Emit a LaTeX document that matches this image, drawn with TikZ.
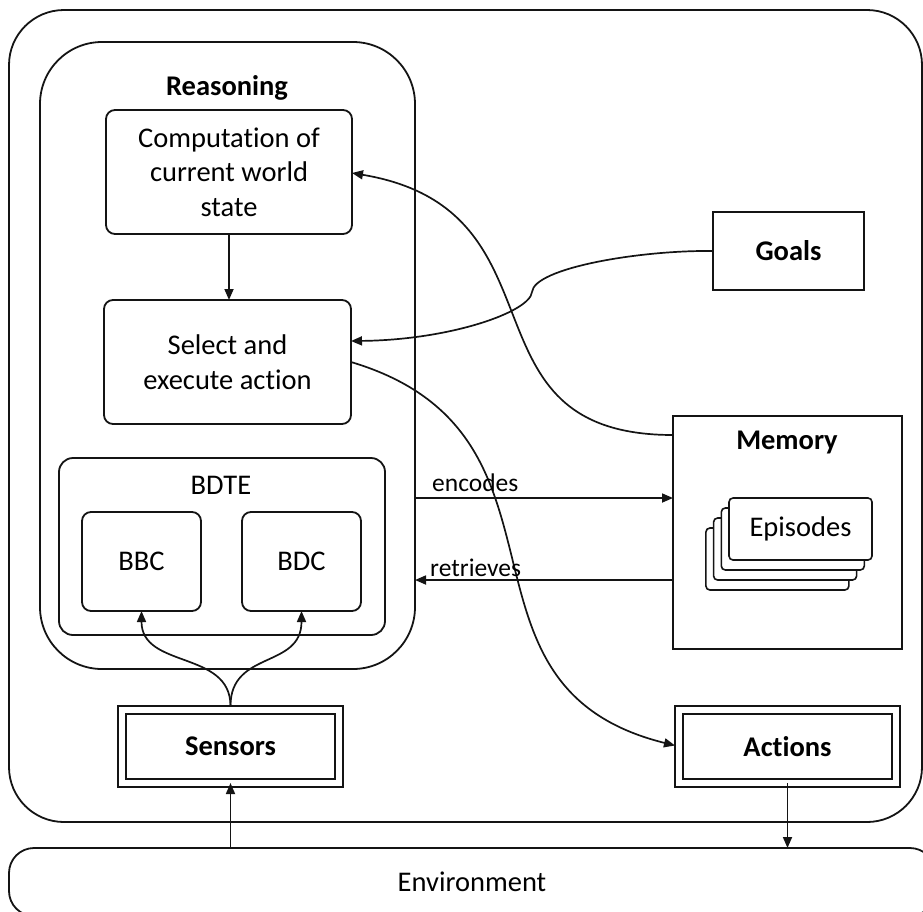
\documentclass[tikz,border=0pt]{standalone}
\usepackage{fontspec}
\setmainfont{Carlito}[Ligatures={NoCommon}]
\usetikzlibrary{arrows.meta,calc}

\tikzset{
  ink/.style={draw=black!92, line width=1.8pt},
  txt/.style={font=\fontsize{28.5}{34.5}\selectfont},
  bold/.style={font=\fontsize{28.5}{34.5}\selectfont\bfseries},
  lbl/.style={font=\fontsize{25.5}{30}\selectfont, inner sep=0pt},
  frame/.style={ink, inner sep=0pt, outer sep=0pt},
  roundbox/.style={frame, rounded corners=9pt, align=center, txt},
  plainbox/.style={frame, bold},
  dblbox/.style={draw=black!92, line width=1.7pt, double=white, double distance=6.3pt,
                 inner sep=0pt, outer sep=0pt, bold},
  card/.style={frame, line width=1.6pt, fill=white, rounded corners=4pt,
               minimum width=143pt, minimum height=62pt},
  conn/.style={draw=black!92, line width=1.7pt, -{Triangle[length=11pt,width=9pt]}},
  wire/.style={draw=black!92, line width=1.7pt},
}

\begin{document}
\begin{tikzpicture}[x=1pt, y=-1pt]
  \useasboundingbox (0,0) rectangle (923,911);

  % containers
  \node[frame, rounded corners=55pt, minimum width=913pt, minimum height=812pt] (agent) at (465.5,416) {};
  \node[frame, rounded corners=25pt, minimum width=926pt, minimum height=68pt, txt] (env) at (472,882) {Environment};
  \node[frame, rounded corners=62pt, minimum width=375pt, minimum height=627pt] (reason) at (227.5,355.5) {};
  \node[bold] (reasonlbl) at (227,88) {Reasoning};

  % reasoning steps
  \node[roundbox, minimum width=246pt, minimum height=124pt] (comp) at (229,172)
       {Computation of\\current world\\state};
  \node[roundbox, minimum width=247pt, minimum height=124pt] (sel) at (227.5,362)
       {Select and\\execute action};

  % BDTE block
  \node[frame, rounded corners=14pt, minimum width=326pt, minimum height=177pt] (bdte) at (222,546.5) {};
  \node[txt] (bdtelbl) at (221,485) {BDTE};
  \node[roundbox, minimum width=119pt, minimum height=99pt] (bbc) at (141.5,561.5) {BBC};
  \node[roundbox, minimum width=119pt, minimum height=99pt] (bdc) at (301.5,561.5) {BDC};

  % goals and memory
  \node[plainbox, minimum width=151pt, minimum height=78pt] (goals) at (788.5,251) {Goals};
  \node[frame, minimum width=229pt, minimum height=233pt] (mem) at (787.5,532.5) {};
  \node[bold] (memlbl) at (787,442) {Memory};
  \node[card] (ep4) at (777.4,559) {};
  \node[card] (ep3) at (785.1,549) {};
  \node[card] (ep2) at (792.8,539) {};
  \node[card, txt] (ep1) at (800.5,529) {Episodes};

  % sensors and actions
  \node[dblbox, minimum width=217pt, minimum height=73pt] (sensors) at (230.5,746.5) {Sensors};
  \node[dblbox, minimum width=217pt, minimum height=73pt] (actions) at (787.5,746.5) {Actions};

  % connectors
  \draw[conn] (comp.south) -- (comp.south |- sel.north);

  \coordinate (kink) at (532,292);
  \draw[wire] (goals.west) .. controls (640,250) and (534,268) .. (kink);
  \draw[conn] (kink) .. controls (530,312) and (450,340) .. (sel.east |- 0,341);

  \draw[conn] (mem.west |- 0,435) .. controls (453,435) and (573,210) .. (comp.east |- 0,173);

  \draw[conn] (sel.east |- 0,362) .. controls (592,434) and (435,686) .. ($(actions.west)+(-4,-1)$);

  \draw[conn] (reason.east |- 0,498) -- (mem.west |- 0,498);
  \node[lbl, anchor=west] (enclbl) at (432,483) {encodes};
  \draw[conn] (mem.west |- 0,580) -- (reason.east |- 0,580);
  \node[lbl, anchor=west] (retlbl) at (430,568) {retrieves};

  \draw[conn] ($(sensors.north)+(0,-4)$) .. controls +(0,-56) and +(0,58) .. (bbc.south);
  \draw[conn] ($(sensors.north)+(0,-4)$) .. controls +(0,-56) and +(0,58) .. (bdc.south);

  \draw[conn] (env.north -| sensors.south) -- (sensors.south);
  \draw[conn] (actions.south) -- (actions.south |- env.north);
\end{tikzpicture}
\end{document}
